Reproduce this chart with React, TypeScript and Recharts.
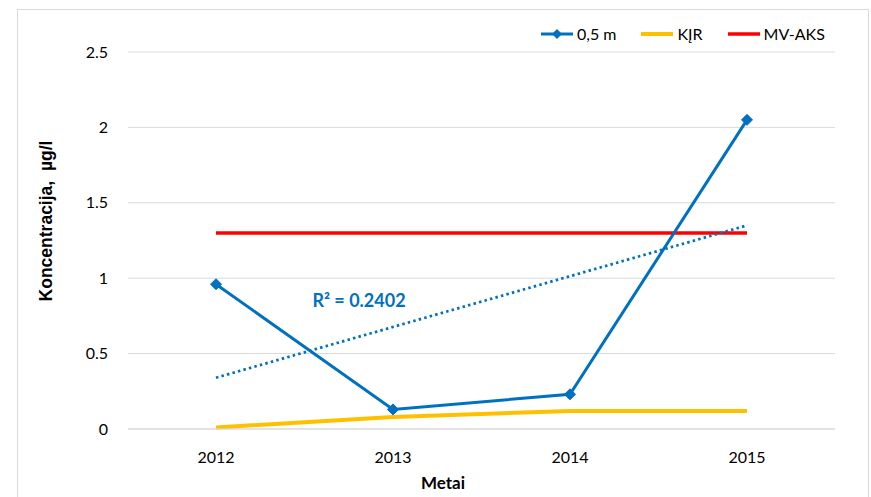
import React from 'react';
import {
  LineChart,
  Line,
  XAxis,
  YAxis,
  CartesianGrid,
} from 'recharts';

const YEARS = ['2012', '2013', '2014', '2015'];
const DEPTH_05 = [0.96, 0.13, 0.23, 2.05];
const KJR = [0.01, 0.08, 0.12, 0.12];
const MV_AKS = [1.3, 1.3, 1.3, 1.3];
// linear trend of the 0,5 m series, only the end points are drawn
const TREND = [0.34, null, null, 1.35];
const Y_TICKS = [0, 0.5, 1, 1.5, 2, 2.5];
const R2_TEXT = 'R² = 0.2402';

const FONT = 'Lato, "Noto Sans", sans-serif';
const TITLE_FONT = '"Liberation Sans", Arial, sans-serif';

const chartData = YEARS.map((year, i) => ({
  year,
  depth: DEPTH_05[i],
  kjr: KJR[i],
  mvAks: MV_AKS[i],
  trend: TREND[i],
}));

const LEGEND_ITEMS = [
  { name: '0,5 m', color: '#0070C0', width: 3, marker: true },
  { name: 'KĮR', color: '#FFC000', width: 4, marker: false },
  { name: 'MV-AKS', color: '#FF0000', width: 3.5, marker: false },
];

function Diamond(props: any) {
  const { cx, cy } = props;
  if (cx == null || cy == null) return null;
  const r = 5.5;
  return (
    <polygon
      points={`${cx},${cy - r} ${cx + r},${cy} ${cx},${cy + r} ${cx - r},${cy}`}
      fill="#0070C0"
      stroke="#0070C0"
    />
  );
}

function ChartLegend() {
  return (
    <div style={{ display: 'flex', alignItems: 'center', gap: 25, fontFamily: FONT, fontSize: 16 }}>
      {LEGEND_ITEMS.map((item) => (
        <div key={item.name} style={{ display: 'flex', alignItems: 'center' }}>
          <svg width={32} height={14} style={{ marginRight: 4 }}>
            <line x1={0} y1={7} x2={32} y2={7} stroke={item.color} strokeWidth={item.width} />
            {item.marker && <polygon points="16,2 21,7 16,12 11,7" fill={item.color} />}
          </svg>
          <span style={{ color: '#000' }}>{item.name}</span>
        </div>
      ))}
    </div>
  );
}

export default function App() {
  return (
    <div
      style={{
        position: 'fixed',
        left: 0,
        top: 0,
        width: 871,
        height: 497,
        overflow: 'hidden',
        background: '#fff',
        fontFamily: FONT,
      }}
    >
      <div
        style={{
          position: 'absolute',
          left: 17,
          top: 9,
          width: 850,
          height: 600,
          border: '1px solid #d9d9d9',
        }}
      />
      <div style={{ position: 'absolute', left: 0, top: 0 }}>
        <LineChart
          width={871}
          height={497}
          data={chartData}
          margin={{ top: 52, right: 36, bottom: 38, left: 0 }}
        >
          <CartesianGrid vertical={false} stroke="#d9d9d9" />
          <XAxis
            dataKey="year"
            height={30}
            axisLine={{ stroke: '#d9d9d9' }}
            tickLine={false}
            tickSize={6}
            tickMargin={17}
            padding={{ left: 88, right: 88 }}
            tick={{ fontSize: 16, fill: '#000', fontFamily: FONT }}
          />
          <YAxis
            width={128}
            domain={[0, 2.5]}
            ticks={Y_TICKS}
            axisLine={false}
            tickLine={false}
            tickSize={6}
            tickMargin={14}
            tick={{ fontSize: 16, fill: '#000', fontFamily: FONT }}
          />
          <Line
            dataKey="kjr"
            name="KĮR"
            stroke="#FFC000"
            strokeWidth={4}
            dot={false}
            isAnimationActive={false}
          />
          <Line
            dataKey="mvAks"
            name="MV-AKS"
            stroke="#FF0000"
            strokeWidth={3.5}
            dot={false}
            isAnimationActive={false}
          />
          <Line
            dataKey="trend"
            name="Trend"
            stroke="#0070C0"
            strokeWidth={2.75}
            strokeDasharray="2.5 3.2"
            connectNulls
            dot={false}
            isAnimationActive={false}
          />
          <Line
            dataKey="depth"
            name="0,5 m"
            stroke="#0070C0"
            strokeWidth={3}
            dot={<Diamond />}
            activeDot={false}
            isAnimationActive={false}
          />
        </LineChart>
      </div>
      <div style={{ position: 'absolute', left: 541, top: 24 }}>
        <ChartLegend />
      </div>
      <div
        style={{
          position: 'absolute',
          left: 46,
          top: 221,
          transform: 'translate(-50%, -50%) rotate(-90deg)',
          whiteSpace: 'pre',
          fontFamily: TITLE_FONT,
          fontWeight: 700,
          fontSize: 17.5,
          color: '#000',
        }}
      >
        Koncentracija,  µg/l
      </div>
      <div
        style={{
          position: 'absolute',
          left: 443,
          top: 482,
          transform: 'translate(-50%, -50%)',
          fontWeight: 700,
          fontSize: 17,
          color: '#000',
        }}
      >
        Metai
      </div>
      <div
        style={{
          position: 'absolute',
          left: 359,
          top: 300,
          transform: 'translate(-50%, -50%)',
          whiteSpace: 'nowrap',
          fontWeight: 700,
          fontSize: 18,
          color: '#0070C0',
        }}
      >
        {R2_TEXT}
      </div>
    </div>
  );
}
